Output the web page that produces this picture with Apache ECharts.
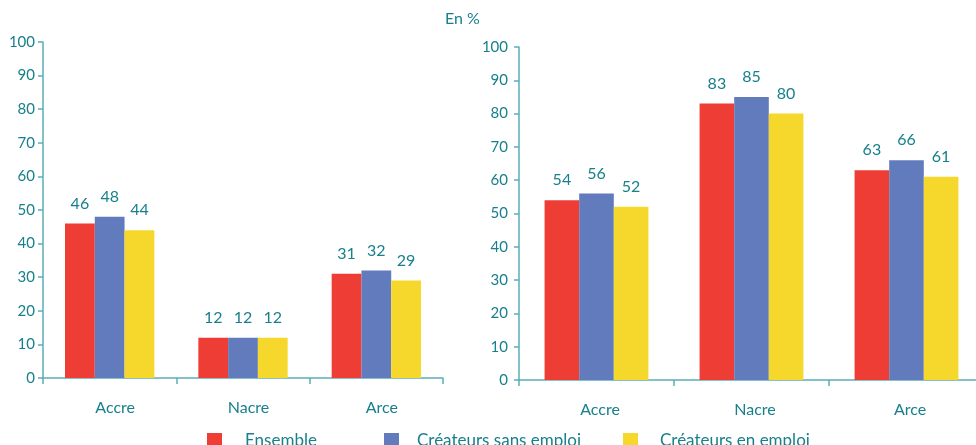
<!DOCTYPE html>
<html>
<head>
<meta charset="utf-8">
<script src="https://cdn.jsdelivr.net/npm/echarts@6/dist/echarts.min.js"></script>
<style>
  html, body { margin: 0; padding: 0; background: #fff; }
  #chart { width: 976px; height: 445px; }
</style>
</head>
<body>
<div id="chart"></div>
<script>
// Aides à la création : taux par dispositif, en %
const categories = ['Accre', 'Nacre', 'Arce'];
const seriesNames = ['Ensemble', 'Créateurs sans emploi', 'Créateurs en emploi'];

// Panneau de gauche
const leftEnsemble = [46, 12, 31];
const leftSansEmploi = [48, 12, 32];
const leftEnEmploi = [44, 12, 29];

// Panneau de droite
const rightEnsemble = [54, 83, 63];
const rightSansEmploi = [56, 85, 66];
const rightEnEmploi = [52, 80, 61];

const yTicks = [0, 10, 20, 30, 40, 50, 60, 70, 80, 90, 100];

const colors = ['#ee3d35', '#627bbd', '#f6d82c'];
const textColor = '#17808c';
const axisColor = '#5aaeb6';
const font = 'Lato';

function yAxis(gridIndex, margin) {
  return {
    type: 'value', gridIndex,
    min: yTicks[0], max: yTicks[yTicks.length - 1], interval: yTicks[1] - yTicks[0],
    axisLine: { show: true, lineStyle: { color: axisColor, width: 1.5 } },
    axisTick: { show: true, length: 5, lineStyle: { color: axisColor, width: 1.5 } },
    splitLine: { show: false },
    axisLabel: { color: textColor, fontSize: 15, fontFamily: font, margin }
  };
}

function xAxis(gridIndex, labelShift) {
  return {
    type: 'category', gridIndex, data: categories,
    axisLine: { show: true, lineStyle: { color: axisColor, width: 1.5 } },
    axisTick: { show: true, length: 6, alignWithLabel: false, lineStyle: { color: axisColor, width: 1.5 } },
    axisLabel: {
      color: textColor, fontSize: 16, fontFamily: font, margin: 22,
      padding: [0, 0, 0, labelShift]
    }
  };
}

function barSeries(name, data, idx, gap) {
  return {
    type: 'bar', name, data,
    xAxisIndex: idx, yAxisIndex: idx,
    barGap: '0%', barCategoryGap: gap,
    itemStyle: { color: colors[seriesNames.indexOf(name)] },
    label: {
      show: true, position: 'top', distance: 12,
      color: textColor, fontSize: 16, fontFamily: font
    }
  };
}

// One legend block per series so each swatch/text pair can sit at its own spot
function legendItem(name, left, textPad) {
  return {
    left, top: 432, padding: 0, itemWidth: 15, itemHeight: 15, icon: 'rect',
    data: [name],
    textStyle: { color: textColor, fontSize: 17, fontFamily: font, padding: [0, 0, 0, textPad] }
  };
}

const chart = echarts.init(document.getElementById('chart'), null, { renderer: 'canvas' });
chart.setOption({
  animation: false,
  textStyle: { fontFamily: font },
  title: {
    text: 'En %', left: 445, top: 11, padding: 0,
    textStyle: { color: textColor, fontSize: 16, fontWeight: 'normal', fontFamily: font }
  },
  legend: [
    legendItem(seriesNames[0], 207, 18),
    legendItem(seriesNames[1], 384, 13),
    legendItem(seriesNames[2], 623, 17)
  ],
  grid: [
    { left: 43, width: 400, top: 42, bottom: 67, outerBoundsMode: 'none' },
    { left: 519, width: 465, top: 47, bottom: 65, outerBoundsMode: 'none' }
  ],
  xAxis: [xAxis(0, 11), xAxis(1, 7)],
  yAxis: [yAxis(0, 8), yAxis(1, 11)],
  series: [
    barSeries(seriesNames[0], leftEnsemble, 0, '33%'),
    barSeries(seriesNames[1], leftSansEmploi, 0, '33%'),
    barSeries(seriesNames[2], leftEnEmploi, 0, '33%'),
    barSeries(seriesNames[0], rightEnsemble, 1, '33%'),
    barSeries(seriesNames[1], rightSansEmploi, 1, '33%'),
    barSeries(seriesNames[2], rightEnEmploi, 1, '33%')
  ]
});
</script>
</body>
</html>
